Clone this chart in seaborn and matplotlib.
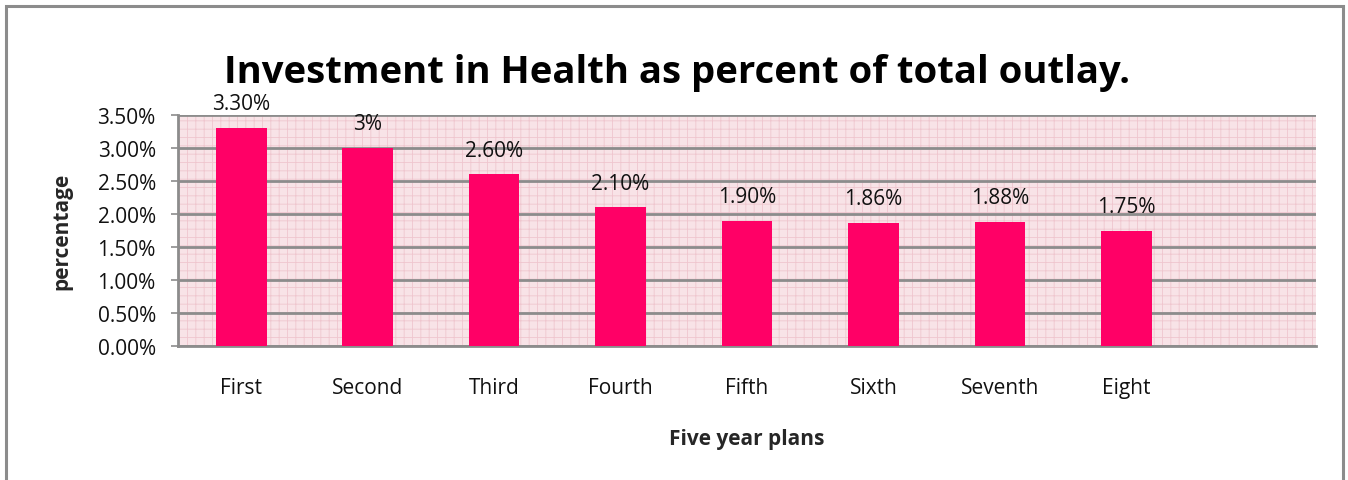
import numpy as np
import pandas as pd
import matplotlib
matplotlib.use("Agg")
import matplotlib.pyplot as plt
import seaborn as sns
from matplotlib.patches import Rectangle
from matplotlib.ticker import FuncFormatter, MultipleLocator

plans = ["First", "Second", "Third", "Fourth", "Fifth", "Sixth", "Seventh", "Eight"]
share = [3.30, 3.00, 2.60, 2.10, 1.90, 1.86, 1.88, 1.75]
bar_labels = ["3.30%", "3%", "2.60%", "2.10%", "1.90%", "1.86%", "1.88%", "1.75%"]

df = pd.DataFrame({"plan": plans, "share": share})

sns.set_theme(style="white")
plt.rcParams["font.family"] = ["Open Sans", "DejaVu Sans"]
plt.rcParams["hatch.linewidth"] = 0.6

fig = plt.figure(figsize=(13.48, 4.81), dpi=100)
# outer chart frame
fig.patches.append(Rectangle((6 / 1348, -0.05), 1337 / 1348, 1.05 - 7 / 481,
                             transform=fig.transFigure, fill=False,
                             edgecolor="#8c8c8c", linewidth=2.2))

ax = fig.add_axes([178 / 1348, 1 - 347 / 481, 1138 / 1348, 231 / 481])
ax.set_facecolor("#f8e3e7")
ax.add_patch(Rectangle((0, 0), 1, 1, transform=ax.transAxes, facecolor="none",
                       edgecolor="#efc6ce", hatch="++", linewidth=0, zorder=0))

sns.barplot(data=df, x="plan", y="share", color="#ff0066", width=0.4,
            saturation=1, linewidth=0, ax=ax, zorder=3)
ax.set_xlim(-0.5, len(plans) + 0.5)
ax.set_ylim(0, 3.5)
ax.yaxis.set_major_locator(MultipleLocator(0.5))
ax.yaxis.set_major_formatter(FuncFormatter(lambda v, p: f"{v:.2f}%"))
ax.grid(axis="y", color="#8c8c8c", linewidth=2, zorder=1)
ax.set_axisbelow(True)

for i, (v, lab) in enumerate(zip(share, bar_labels)):
    ax.annotate(lab, (i, v), xytext=(0, 10), textcoords="offset points",
                ha="center", va="bottom", fontsize=15, color="#111111")

for s in ["top", "right"]:
    ax.spines[s].set_visible(False)
for s in ["left", "bottom"]:
    ax.spines[s].set_color("#8c8c8c")
    ax.spines[s].set_linewidth(2)

ax.tick_params(axis="y", left=True, length=5, width=1.2, color="#8c8c8c",
               labelsize=15, pad=11, labelcolor="#111111")
ax.tick_params(axis="x", bottom=False, labelsize=15, pad=16, labelcolor="#111111")

ax.set_xlabel("Five year plans", fontsize=15, fontweight="bold", labelpad=22)
ax.set_ylabel("percentage", fontsize=15, fontweight="bold", labelpad=18)
fig.text(0.502, 1 - 73 / 481, "Investment in Health as percent of total outlay.",
         ha="center", va="center", fontsize=27.5, fontweight="bold", color="#000000")

fig.savefig("out.png", dpi=100)
